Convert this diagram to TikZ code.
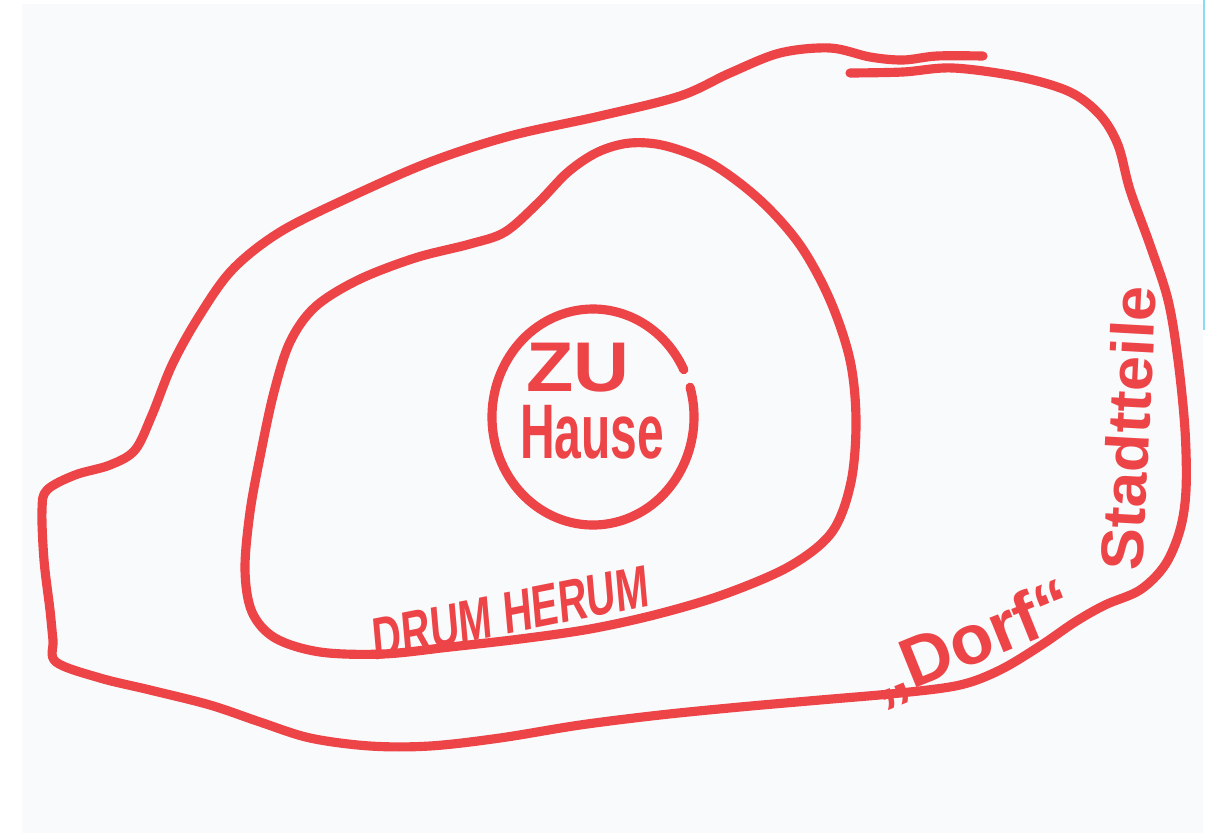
\documentclass[tikz,border=0pt]{standalone}
\usepackage{fontspec}
\setmainfont{Liberation Sans}
\definecolor{marker}{RGB}{237,68,72}
\definecolor{paper}{RGB}{249,250,252}
\usetikzlibrary{positioning}

\begin{document}
\begin{tikzpicture}[x=0.01cm, y=-0.01cm,
    pen/.style={line width=2.6pt, marker, line cap=round, line join=round},
    scrawl/.style={text=marker, font=\bfseries, inner sep=0pt}]
  \useasboundingbox (0,0) rectangle (1221,833);
  % sheet of paper
  \fill[paper] (22,4) rectangle (1203,833);
  \draw[cyan!45, line width=0.6pt] (1204,0) -- (1204,330);
  % outer ring: "Dorf" / Stadtteile
  \draw[pen] plot[smooth, tension=0.55] coordinates {
    (850,73) (903,72) (953,68) (1020,77) (1070,92) (1100,115) (1118,145)
    (1130,190) (1150,245) (1168,300) (1178,360) (1185,430) (1186,490)
    (1180,530) (1165,565) (1140,590) (1105,605) (1075,622) (1040,646)
    (1000,670) (960,685) (900,693) (820,700) (740,707) (660,715) (580,725)
    (500,738) (430,746) (370,746) (310,738) (260,722) (210,705) (150,690)
    (100,678) (56,662) (53,640) (50,610) (44,560) (42,510) (47,490)
    (75,475) (110,465) (135,450) (152,415) (172,365) (198,318) (232,270)
    (280,232) (350,197) (430,162) (510,136) (600,116) (680,96) (730,73)
    (780,53) (830,48) (870,57) (903,60) (937,56) (983,56)};
  % middle ring: drumherum
  \draw[pen] plot[smooth cycle, tension=0.55] coordinates {
    (630,143) (598,152) (568,172) (538,203) (505,232) (470,244) (415,258)
    (358,280) (315,307) (290,342) (274,392) (261,452) (250,512) (245,570)
    (252,612) (275,638) (320,652) (383,654) (450,647) (520,639) (590,629)
    (658,614) (725,594) (790,566) (832,532) (851,482) (856,420) (850,360)
    (830,300) (800,245) (760,200) (712,164) (666,146)};
  % inner ring: zu Hause (open at upper right)
  \draw[pen] (593,417) ++(-16:101 and 108)
    arc[start angle=-16, end angle=334, x radius=101, y radius=108];
  % labels
  \node[scrawl, font=\bfseries\fontsize{20}{22}\selectfont, xscale=1.1]
    (zu) at (578,368) {ZU};
  \node[scrawl, font=\bfseries\fontsize{22}{24}\selectfont, xscale=0.62]
    (hause) at (592,432) {Hause};
  \node[scrawl, font=\bfseries\fontsize{17}{19}\selectfont, xscale=0.67,
    rotate=7.6] (drumherum) at (511,613) {DRUM HERUM};
  \node[scrawl, font=\bfseries\fontsize{20}{22}\selectfont, rotate=22]
    (dorf) at (972,644) {„Dorf“};
  \node[scrawl, font=\bfseries\fontsize{18}{20}\selectfont, xscale=0.95,
    rotate=87] (stadtteile) at (1128,428) {Stadtteile};
\end{tikzpicture}
\end{document}
